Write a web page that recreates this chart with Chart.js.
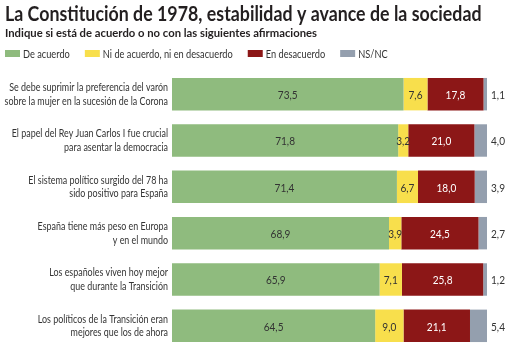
<!DOCTYPE html>
<html>
<head>
<meta charset="utf-8">
<script src="https://cdn.jsdelivr.net/npm/chart.js@4"></script>
<style>
  body { margin: 0; background: #fff; }
</style>
</head>
<body>
<canvas id="encuesta" width="510" height="349"></canvas>
<script>
// Survey data (percentages per statement)
const statements = [
    ['Se debe suprimir la preferencia del varón', 'sobre la mujer en la sucesión de la Corona'],
    ['El papel del Rey Juan Carlos I fue crucial', 'para asentar la democracia'],
    ['El sistema político surgido del 78 ha', 'sido positivo para España'],
    ['España tiene más peso en Europa', 'y en el mundo'],
    ['Los españoles viven hoy mejor', 'que durante la Transición'],
    ['Los políticos de la Transición eran', 'mejores que los de ahora']
];
const deAcuerdo = [73.5, 71.8, 71.4, 68.9, 65.9, 64.5];
const niNi = [7.6, 3.2, 6.7, 3.9, 7.1, 9.0];
const enDesacuerdo = [17.8, 21.0, 18.0, 24.5, 25.8, 21.1];
const nsnc = [1.1, 4.0, 3.9, 2.7, 1.2, 5.4];

const seriesNames = ['De acuerdo', 'Ni de acuerdo, ni en desacuerdo', 'En desacuerdo', 'NS/NC'];
const seriesColors = ['#8fbb7e', '#f8df4c', '#8c1717', '#949fae'];

const titleText = 'La Constitución de 1978, estabilidad y avance de la sociedad';
const subtitleText = 'Indique si está de acuerdo o no con las siguientes afirmaciones';

// Myriad-like narrow look: squeeze text horizontally
const SQUEEZE = 0.84;
function narrowText(ctx, text, x, y, k = SQUEEZE) {
    ctx.fillText(text, x, y, ctx.measureText(text).width * k);
}
function narrowWidth(ctx, text, k = SQUEEZE) {
    return ctx.measureText(text).width * k;
}
const fmt = v => v.toFixed(1).replace('.', ',');

// Title, subtitle, legend, statement labels and value labels
const decorations = {
    id: 'decorations',
    afterDatasetsDraw(chart) {
        const ctx = chart.ctx;
        const yScale = chart.scales.y;
        const area = chart.chartArea;
        ctx.save();

        // heading
        ctx.fillStyle = '#231f20';
        ctx.textAlign = 'left';
        ctx.textBaseline = 'alphabetic';
        ctx.font = 'bold 20px Lato';
        narrowText(ctx, titleText, 5, 21, 0.89);
        ctx.font = 'bold 12px Lato';
        narrowText(ctx, subtitleText, 5, 37, 0.94);

        // legend
        ctx.font = '11px Lato';
        ctx.textBaseline = 'middle';
        let lx = 5;
        chart.data.datasets.forEach(ds => {
            ctx.fillStyle = ds.backgroundColor;
            ctx.fillRect(lx, 50, 15, 7);
            ctx.fillStyle = '#333';
            narrowText(ctx, ds.label, lx + 18, 54);
            lx += 18 + narrowWidth(ctx, ds.label) + 15;
        });

        // statement labels, right aligned against the bars
        ctx.font = '11px Lato';
        ctx.textAlign = 'right';
        ctx.fillStyle = '#333';
        chart.data.labels.forEach((lines, i) => {
            const yc = yScale.getPixelForValue(i);
            lines.forEach((line, j) => {
                const y = yc + (j - (lines.length - 1) / 2) * 13.6;
                ctx.fillText(line, area.left - 4, y, narrowWidth(ctx, line, 0.81));
            });
        });

        // values
        ctx.font = '12px Lato';
        ctx.textAlign = 'center';
        const last = chart.data.datasets.length - 1;
        chart.data.datasets.forEach((ds, d) => {
            chart.getDatasetMeta(d).data.forEach((bar, i) => {
                const txt = fmt(ds.data[i]);
                let x = (bar.x + bar.base) / 2;
                if (d === last) x = area.right + 11;
                ctx.fillStyle = d === 2 ? '#ffffff' : '#333';
                ctx.fillText(txt, x, bar.y + 1, narrowWidth(ctx, txt));
            });
        });
        ctx.restore();
    }
};

const seriesData = [deAcuerdo, niNi, enDesacuerdo, nsnc];

new Chart(document.getElementById('encuesta'), {
    type: 'bar',
    data: {
        labels: statements,
        datasets: seriesNames.map((name, k) => ({
            label: name,
            data: seriesData[k],
            backgroundColor: seriesColors[k],
            borderWidth: 0,
            barPercentage: 0.7,
            categoryPercentage: 1
        }))
    },
    options: {
        indexAxis: 'y',
        responsive: false,
        animation: false,
        devicePixelRatio: 1,
        layout: { padding: { top: 71, right: 23, bottom: 0, left: 0 } },
        plugins: {
            legend: { display: false },
            title: { display: false },
            tooltip: { enabled: false }
        },
        scales: {
            x: { stacked: true, min: 0, max: 100, display: false },
            y: {
                stacked: true,
                grid: { display: false, drawTicks: false },
                border: { display: false },
                ticks: { display: false },
                afterFit(scale) { scale.width = 172; }
            }
        }
    },
    plugins: [decorations]
});
</script>
</body>
</html>
